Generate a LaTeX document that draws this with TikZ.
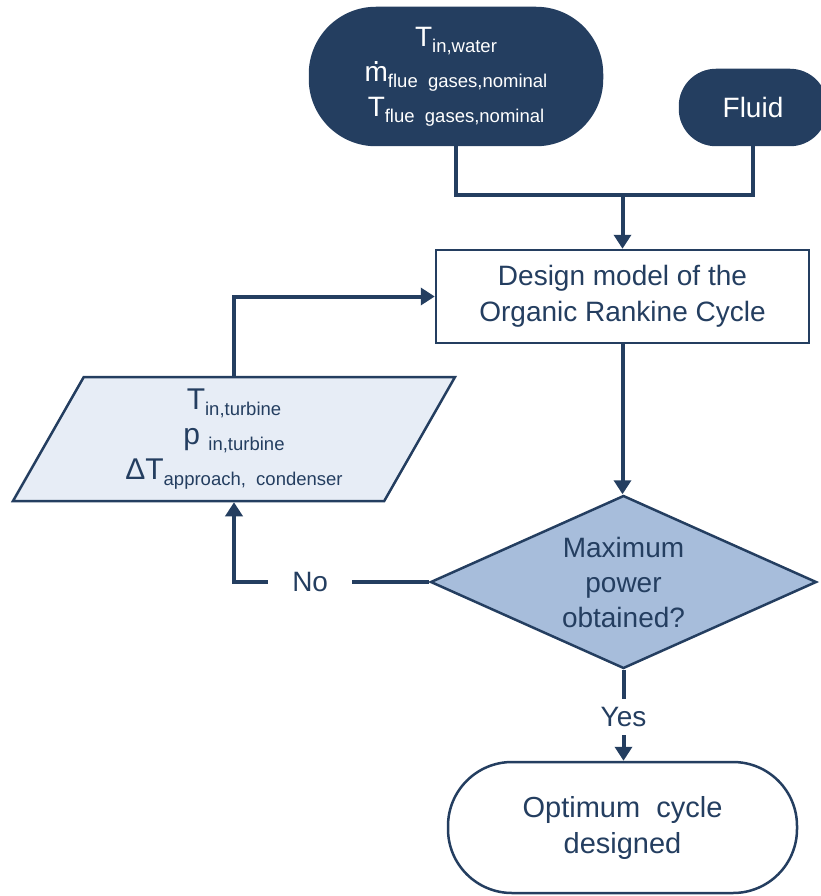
\documentclass[tikz,border=0pt]{standalone}
\usepackage{fontspec}
\setmainfont{Liberation Sans}
\usetikzlibrary{shapes.geometric,arrows.meta}

\definecolor{navy}{RGB}{36,62,96}
\definecolor{decisionfill}{RGB}{167,189,219}
\definecolor{inputfill}{RGB}{231,237,246}

% lowered, smaller index text after a symbol
\newcommand\lowtext[1]{\raisebox{-0.22em}{\fontsize{18.5}{18.5}\selectfont #1}}
% mass flow symbol: m with a dot above
\newcommand\mflow{\ooalign{m\cr\hidewidth\raisebox{0.6em}{.}\hidewidth\cr}}

\begin{document}
\begin{tikzpicture}[x=1pt,y=-1pt,
  plain/.style={draw=navy, line width=4pt},
  flow/.style={plain, -{Triangle[width=17pt,length=14pt]}},
  boxline/.style={draw=navy, line width=2.5pt},
  darkterm/.style={boxline, fill=navy, text=white, align=center, inner sep=0pt},
  process/.style={boxline, fill=white, text=navy, align=center, inner sep=0pt},
  decision/.style={diamond, boxline, fill=decisionfill, text=navy, align=center, inner sep=0pt},
  inputdata/.style={trapezium, trapezium left angle=55, trapezium right angle=125,
    trapezium stretches body, boxline, fill=inputfill, text=navy, align=center, inner sep=0pt},
  branchlabel/.style={fill=white, text=navy, font=\fontsize{28}{34}\selectfont}
]
\useasboundingbox (0,0) rectangle (821,896);

% inputs
\node[darkterm, minimum width=292, minimum height=137, rounded corners=66pt,
      font=\fontsize{28}{35}\selectfont] (inputs) at (456,76.5)
  {T\lowtext{in,water}\\
   \mflow\lowtext{flue\ \ gases,nominal}\\
   T\lowtext{flue\ \ gases,nominal}};
\node[darkterm, minimum width=146, minimum height=75, rounded corners=36pt,
      font=\fontsize{28}{34}\selectfont] (fluid) at (753,107.5) {Fluid};

% design model
\node[process, minimum width=373, minimum height=93,
      font=\fontsize{28}{36}\selectfont] (design) at (622.5,296.5)
  {Design model of the\\Organic Rankine Cycle};

% decision
\node[decision, minimum width=386, minimum height=173, aspect=2.23,
      font=\fontsize{28}{35}\selectfont] (check) at (623.5,582)
  {Maximum\\power\\obtained?};

% varied parameters
\node[inputdata, minimum width=442, minimum height=124,
      font=\fontsize{30}{35}\selectfont] (params) at (234,439)
  {T\lowtext{in,turbine}\\
   p \lowtext{in,turbine}\\
   ΔT\lowtext{approach,\ \ condenser}};

% result
\node[process, minimum width=349, minimum height=131, rounded corners=64pt,
      font=\fontsize{29}{36}\selectfont] (result) at (622.5,827.5)
  {Optimum\ \ cycle\\designed};

% connectors
\coordinate (join) at (622.5,195);
\draw[plain] (inputs.south) |- (join) -| (fluid.south);
\draw[flow] (join) -- (design.north);
\draw[flow] (design.south) -- (design.south |- check.north);
\draw[flow] (check.west)
  -- node[branchlabel, pos=0.61, inner xsep=24pt] {No} (params.center |- check.west)
  -- (params.center |- params.south);
\draw[flow] (params.center |- params.north) |- (design.west);
\draw[flow] (check.south)
  -- node[branchlabel, pos=0.52, inner ysep=8pt] {Yes} (check.south |- result.north);
\end{tikzpicture}
\end{document}
